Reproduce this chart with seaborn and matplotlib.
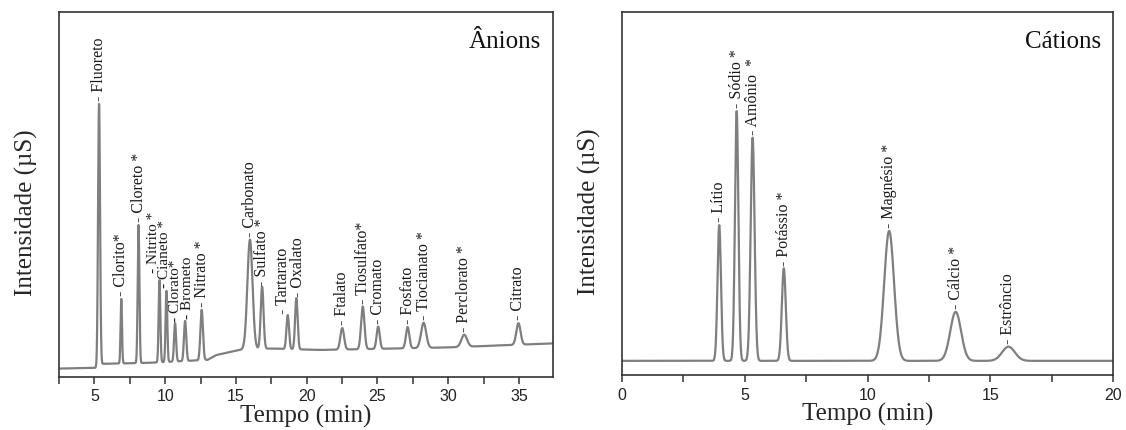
import numpy as np
import pandas as pd
import matplotlib
matplotlib.use("Agg")
import matplotlib.pyplot as plt
from matplotlib.ticker import MultipleLocator
import seaborn as sns


# -----------------------------------------------------------------
# Ânions: picos (tempo de retenção, altura acima da linha base, largura)
# -----------------------------------------------------------------
anion_nomes = ["Fluoreto", "Clorito*", "Cloreto *", "Nitrito *", "Cianeto *",
               "Clorato*", "Brometo", "Nitrato *", "Carbonato", "Sulfato *",
               "Tartarato", "Oxalato", "Ftalato", "Tiosulfato*", "Cromato",
               "Fosfato", "Tiocianato *", "Perclorato *", "Citrato"]
anion_tempo = [5.33, 6.90, 8.12, 9.60, 10.09, 10.70, 11.41, 12.58, 15.99, 16.85,
               18.66, 19.27, 22.51, 23.96, 25.05, 27.13, 28.26, 31.13, 34.96]
anion_altura = [72.0, 17.7, 37.8, 22.5, 19.5, 10.5, 11.0, 13.8, 30.0, 17.0,
                9.3, 14.0, 5.9, 11.7, 6.1, 5.8, 6.9, 3.3, 5.9]
anion_largura = [0.07, 0.05, 0.06, 0.06, 0.06, 0.07, 0.08, 0.09, 0.18, 0.10,
                 0.09, 0.09, 0.13, 0.12, 0.11, 0.12, 0.18, 0.20, 0.15]

anion_base_t = [2.5, 5.2, 5.6, 9.0, 13.0, 13.6, 15.5, 17.5, 21.0, 30.0, 37.4]
anion_base_y = [2.3, 2.5, 3.6, 3.9, 4.7, 6.0, 7.6, 7.8, 7.4, 8.1, 9.2]

# -----------------------------------------------------------------
# Cátions
# -----------------------------------------------------------------
cation_nomes = ["Lítio", "Sódio *", "Amônio  *", "Potássio *", "Magnésio *",
                "Cálcio *", "Estrôncio"]
cation_tempo = [3.96, 4.67, 5.32, 6.59, 10.88, 13.59, 15.74]
cation_altura = [37.4, 68.8, 61.5, 25.5, 35.8, 13.5, 3.9]
cation_largura = [0.07, 0.07, 0.08, 0.08, 0.20, 0.22, 0.26]

cation_base_t = [0.0, 20.0]
cation_base_y = [3.9, 3.9]

# ajustes finos dos rótulos (dx, dy em pontos, tamanho) onde os picos ficam muito juntos
ajuste_rotulo = {
    "Nitrito *": (-4.5, 5, 11),
    "Cianeto *": (-1.3, 2, 11),
    "Clorato*": (0.4, 1, 11),
    "Brometo": (1.4, 1, 11),
    "Tartarato": (-3.5, 1, 11.5),
    "Oxalato": (1.5, 1, 11.5),
    "Sulfato *": (0, 0.5, 11.5),
}


def cromatograma(t, tempos, alturas, larguras, base_t, base_y):
    """Soma de picos gaussianos sobre a linha base."""
    y = np.interp(t, base_t, base_y)
    for t0, h, s in zip(tempos, alturas, larguras):
        y = y + h * np.exp(-0.5 * ((t - t0) / s) ** 2)
    return y


def desenhar_painel(ax, t, nomes, tempos, alturas, larguras, base_t, base_y, titulo):
    y = cromatograma(t, tempos, alturas, larguras, base_t, base_y)
    df = pd.DataFrame({"tempo": t, "sinal": y})
    sns.lineplot(data=df, x="tempo", y="sinal", ax=ax, color="#7f7f7f",
                 linewidth=1.6, estimator=None)

    # rótulos verticais acima de cada pico
    for nome, t0 in zip(nomes, tempos):
        topo = np.interp(t0, t, y)
        dx, dy, fs = ajuste_rotulo.get(nome, (0, 2, 11.5))
        ax.annotate("- " + nome, xy=(t0, topo), xytext=(dx, dy),
                    textcoords="offset points", rotation=90,
                    ha="center", va="bottom", fontsize=fs, color="#1a1a1a")

    ax.text(0.975, 0.90, titulo, transform=ax.transAxes, ha="right",
            va="baseline", fontsize=18, color="#111111")

    ax.set_ylim(0, 100)
    ax.set_yticks([])
    ax.set_xlabel("Tempo (min)", fontsize=18, labelpad=0)
    ax.set_ylabel("Intensidade (µS)", fontsize=18)
    ax.yaxis.set_label_coords(-0.043, 0.45)
    ax.xaxis.set_major_locator(MultipleLocator(5))
    ax.xaxis.set_minor_locator(MultipleLocator(2.5))
    ax.tick_params(axis="x", which="both", direction="out", length=5,
                   width=1.1, colors="#333333", labelsize=11.5,
                   labelfontfamily="Liberation Sans", pad=4, labelcolor="#222222")
    for sp in ax.spines.values():
        sp.set_visible(True)
        sp.set_color("#333333")
        sp.set_linewidth(1.2)


sns.set_theme(style="ticks")
plt.rcParams["font.family"] = ["Liberation Serif", "DejaVu Serif"]

fig = plt.figure(figsize=(11.26, 4.30), dpi=100)
ax1 = fig.add_axes([0.0524, 0.1233, 0.4387, 0.8488])
ax2 = fig.add_axes([0.5524, 0.1279, 0.4361, 0.8442])

t_an = np.linspace(2.5, 37.4, 6000)
desenhar_painel(ax1, t_an, anion_nomes, anion_tempo, anion_altura, anion_largura,
                anion_base_t, anion_base_y, "Ânions")
ax1.set_xlim(2.5, 37.4)

t_cat = np.linspace(0, 20, 4000)
desenhar_painel(ax2, t_cat, cation_nomes, cation_tempo, cation_altura, cation_largura,
                cation_base_t, cation_base_y, "Cátions")
ax2.set_xlim(0, 20)

fig.savefig("out.png", dpi=100)
